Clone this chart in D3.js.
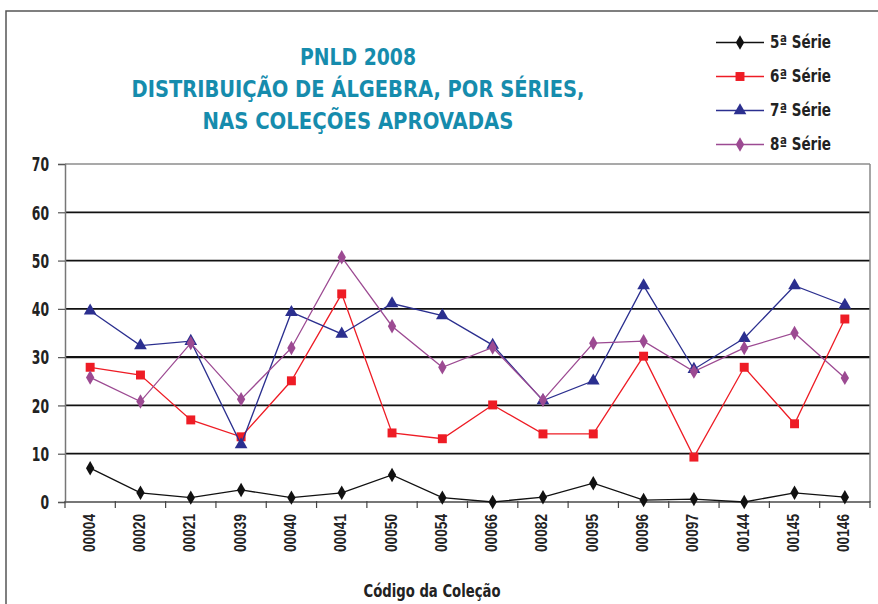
<!DOCTYPE html>
<html>
<head>
<meta charset="utf-8">
<script src="https://cdn.jsdelivr.net/npm/d3@7"></script>
<style>
  body{margin:0;background:#fff}
  svg{display:block}
  .cond{font-family:'Liberation Sans Narrow','DejaVu Sans Condensed',sans-serif;font-weight:bold;font-stretch:condensed}
</style>
</head>
<body>
<svg id="chart" width="878" height="604"></svg>
<script>
// colecoes
var codes=['00004','00020','00021','00039','00040','00041','00050','00054','00066','00082','00095','00096','00097','00144','00145','00146']
var serie5=[7.0,1.9,0.9,2.5,0.9,1.9,5.6,0.9,0,1.0,3.9,0.4,0.6,0,1.9,1.0]
var serie6=[27.9,26.3,17.0,13.5,25.1,43.1,14.3,13.1,20.1,14.1,14.1,30.2,9.3,27.9,16.2,37.9]
var serie7=[39.6,32.4,33.3,11.9,39.3,34.8,41.1,38.6,32.5,21.0,25.1,44.8,27.5,33.9,44.8,40.8]
var serie8=[25.8,20.8,32.9,21.3,31.9,50.7,36.4,27.9,32.0,21.1,32.9,33.3,27.0,31.9,35.0,25.7]
var seriesNames=['5ª Série','6ª Série','7ª Série','8ª Série']
var yTicks=[0,10,20,30,40,50,60,70]
var titleLines=['PNLD 2008','DISTRIBUIÇÃO DE ÁLGEBRA, POR SÉRIES,','NAS COLEÇÕES APROVADAS']
var xTitle='Código da Coleção'

var series=[
    {name:seriesNames[0],values:serie5,color:'#111111',symbol:d3.symbolDiamond,size:60},
    {name:seriesNames[1],values:serie6,color:'#ee1c25',symbol:d3.symbolSquare,size:80},
    {name:seriesNames[2],values:serie7,color:'#2b2f8f',symbol:d3.symbolTriangle,size:70},
    {name:seriesNames[3],values:serie8,color:'#9c4a92',symbol:d3.symbolDiamond,size:60},
]

var svg=d3.select('#chart')
var margin={left:65,right:8,top:164,bottom:102}
var W=878,H=604
var plotW=W-margin.left-margin.right
var plotH=H-margin.top-margin.bottom

// moldura externa
svg.append('rect')
    .attr('x',6).attr('y',11)
    .attr('width',1000).attr('height',1000)
    .attr('fill','none').attr('stroke','#555').attr('stroke-width',1.5)

var x=d3.scaleBand().domain(codes).range([0,plotW])
var y=d3.scaleLinear().domain([0,70]).range([plotH,0])

var g=svg.append('g').attr('transform',`translate(${margin.left},${margin.top})`)

// grade
g.append('g')
    .selectAll('line')
    .data(yTicks.filter(d=>d>0))
    .join('line')
    .attr('x1',0).attr('x2',plotW)
    .attr('y1',d=>y(d)).attr('y2',d=>y(d))
    .attr('stroke',d=>d==70?'#555':'#111')
    .attr('stroke-width',d=>d==70?1.2:(d==30?2.4:1.8))

// borda direita
g.append('line')
    .attr('x1',plotW).attr('x2',plotW).attr('y1',0).attr('y2',plotH)
    .attr('stroke','#888').attr('stroke-width',1.5)

// eixo y
var yAxis=g.append('g').call(d3.axisLeft(y).tickValues(yTicks).tickSize(7).tickPadding(9))
yAxis.select('.domain').attr('stroke','#777').attr('stroke-width',1.5)
yAxis.selectAll('.tick line').attr('stroke','#555').attr('stroke-width',1.2)
yAxis.selectAll('.tick text')
    .attr('class','cond')
    .attr('font-size',19).attr('fill','#222')
    .attr('dy','0.36em')
    .attr('textLength',d=>String(d).length*8.6)
    .attr('lengthAdjust','spacingAndGlyphs')

// eixo x
var bounds=codes.map(c=>x(c)).concat([plotW])
var xAxis=g.append('g').attr('transform',`translate(0,${plotH})`)
xAxis.append('line')
    .attr('x1',0).attr('x2',plotW)
    .attr('stroke','#777').attr('stroke-width',2)
xAxis.selectAll('line.tk')
    .data(bounds)
    .join('line')
    .attr('class','tk')
    .attr('x1',d=>d).attr('x2',d=>d)
    .attr('y1',-1).attr('y2',6)
    .attr('stroke','#444').attr('stroke-width',1.2)
xAxis.selectAll('text')
    .data(codes)
    .join('text')
    .attr('transform',d=>`translate(${x(d)+x.bandwidth()/2-1},12) rotate(-90)`)
    .attr('text-anchor','end')
    .attr('dominant-baseline','central')
    .attr('font-family','Liberation Sans, Arial, sans-serif')
    .attr('font-weight','bold')
    .attr('font-size',16)
    .attr('textLength',38)
    .attr('lengthAdjust','spacingAndGlyphs')
    .attr('fill','#222')
    .text(d=>d)

// linhas e marcadores
var line=d3.line().x((d,i)=>x(codes[i])+x.bandwidth()/2).y(d=>y(d))
var sg=g.append('g')
    .selectAll('g')
    .data(series)
    .join('g')
sg.append('path')
    .attr('d',d=>line(d.values))
    .attr('fill','none')
    .attr('stroke',d=>d.color)
    .attr('stroke-width',1.3)
sg.selectAll('path.mk')
    .data(d=>d.values.map((v,i)=>({v:v,i:i,s:d})))
    .join('path')
    .attr('class','mk')
    .attr('transform',d=>`translate(${x(codes[d.i])+x.bandwidth()/2},${y(d.v)})`)
    .attr('d',d=>d3.symbol(d.s.symbol,d.s.size)())
    .attr('fill',d=>d.s.color)

// titulo
var titleY=[65,97,129]
var titleW=[116,453,311]
svg.append('g')
    .selectAll('text')
    .data(titleLines)
    .join('text')
    .attr('class','cond')
    .attr('x',358)
    .attr('y',(d,i)=>titleY[i])
    .attr('text-anchor','middle')
    .attr('font-size',23)
    .attr('fill','#168cad')
    .attr('textLength',(d,i)=>titleW[i])
    .attr('lengthAdjust','spacingAndGlyphs')
    .text(d=>d)

// legenda
var lg=svg.append('g')
    .selectAll('g')
    .data(series)
    .join('g')
    .attr('transform',(d,i)=>`translate(716,${42.5+i*34})`)
lg.append('line')
    .attr('x1',0).attr('x2',48)
    .attr('stroke',d=>d.color).attr('stroke-width',1.3)
lg.append('path')
    .attr('transform','translate(24,0)')
    .attr('d',d=>d3.symbol(d.symbol,d.size)())
    .attr('fill',d=>d.color)
lg.append('text')
    .attr('class','cond')
    .attr('x',54)
    .attr('y',5.5)
    .attr('font-size',17.5)
    .attr('fill','#222')
    .attr('textLength',61)
    .attr('lengthAdjust','spacingAndGlyphs')
    .text(d=>d.name)

// titulo eixo x
svg.append('text')
    .attr('class','cond')
    .attr('x',432)
    .attr('y',597)
    .attr('text-anchor','middle')
    .attr('font-size',17.5)
    .attr('fill','#222')
    .attr('textLength',137)
    .attr('lengthAdjust','spacingAndGlyphs')
    .text(xTitle)
</script>
</body>
</html>
